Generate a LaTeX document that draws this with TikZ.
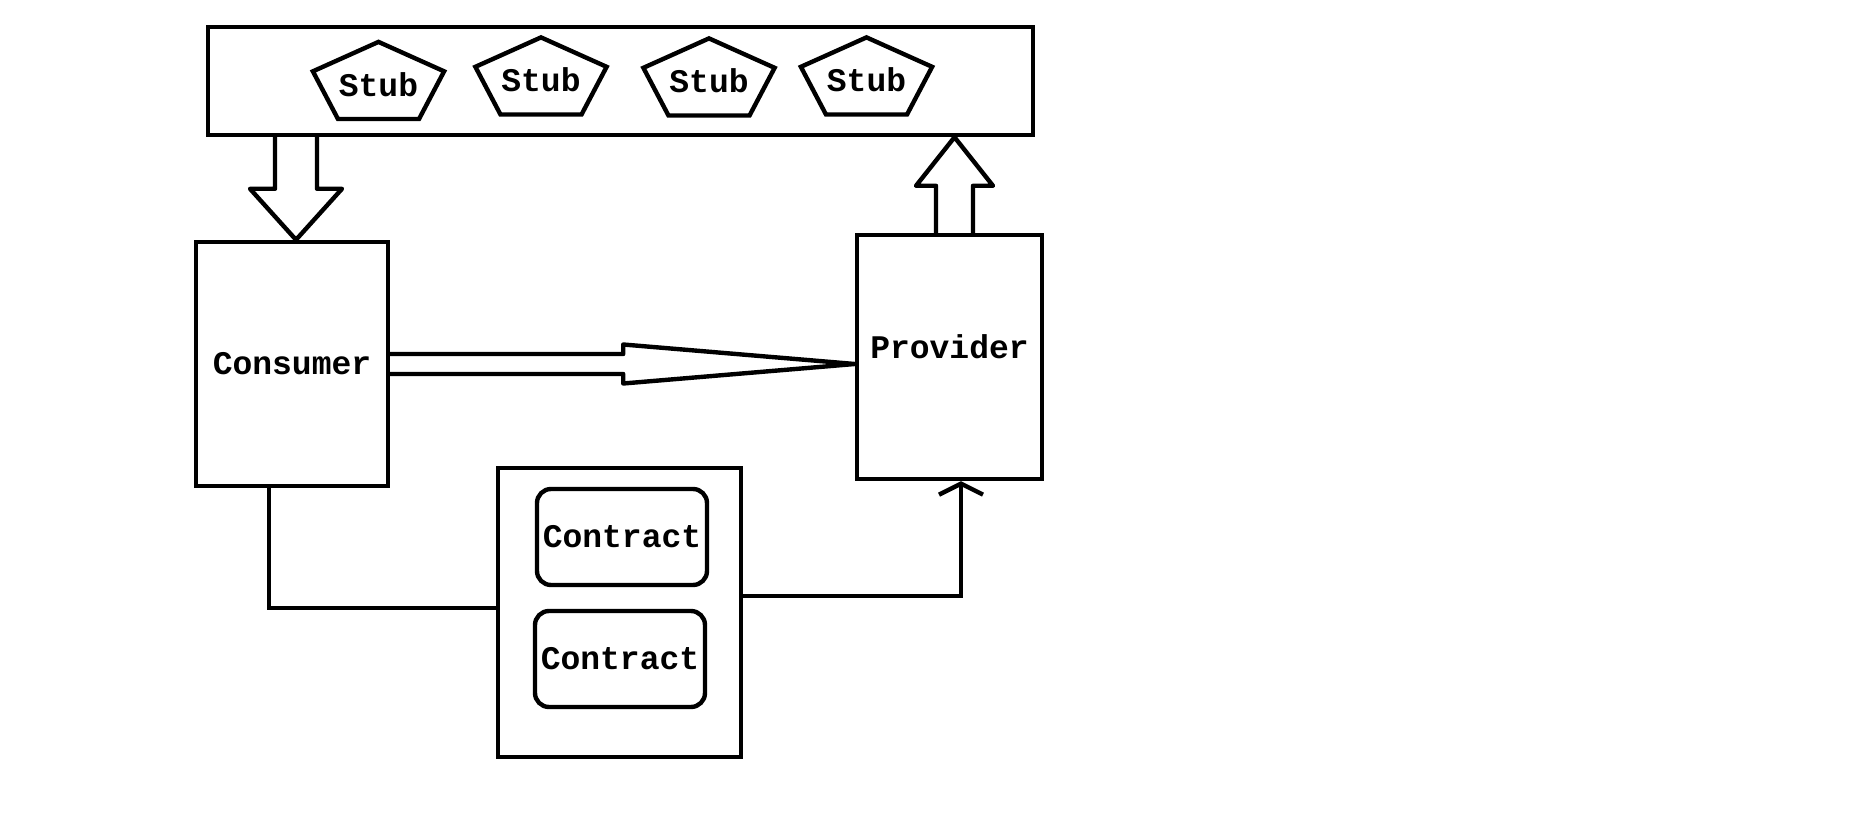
\documentclass[tikz,border=0pt]{standalone}
\usepackage{fontspec}
\setmonofont{Liberation Mono}
\usetikzlibrary{arrows.meta,positioning,calc}

\begin{document}
\begin{tikzpicture}[
  x=0.5pt, y=0.5pt,
  every node/.style={font=\ttfamily\bfseries\fontsize{16.5}{18}\selectfont},
  frame/.style={draw, line width=2.2pt, inner sep=0pt},
  party/.style={frame, minimum width=96pt, minimum height=122pt},
  contract/.style={frame, rounded corners=7pt, minimum width=85pt, minimum height=48pt},
  stubline/.style={line width=2.2pt},
  hollow/.style={line width=2.2pt, line join=round},
  link/.style={line width=2.2pt},
  barb/.style={-{Straight Barb[length=5.5pt,width=22pt]}}
]
\useasboundingbox (0,0) rectangle (1874,815);

% stub registry
\node[frame, minimum width=412.5pt, minimum height=54pt] (bar) at (620.5,734) {};
\node (s1) at (378.5,730.5) {Stub};
\node (s2) at (541,735) {Stub};
\node (s3) at (709,734) {Stub};
\node (s4) at (866.5,735) {Stub};
\foreach \s in {s1,s2,s3,s4}
  \draw[stubline, shift={(\s.center)}] (90:69 and 42.6) -- (162:69 and 42.6)
    -- (234:69 and 42.6) -- (306:69 and 42.6) -- (18:69 and 42.6) -- cycle;

% parties
\node[party] (cons) at (292,451) {Consumer};
\node[party, minimum width=92.5pt, text depth=10pt] (prov) at (949.5,458) {Provider};

% contracts
\node[frame, minimum width=121.5pt, minimum height=144.5pt] (holder) at (619.5,202.5) {};
\node[contract] (c1) at (622,278) {Contract};
\node[contract] (c2) at (620,156) {Contract};

% hollow arrows
\coordinate (dn) at ($(cons.north)+(4,0)$);
\coordinate (up) at ($(prov.north)+(5,0)$);
\draw[hollow] ($(bar.south -| dn)+(-21,0)$) -- ($(dn)+(-21,51)$)
  -- ($(dn)+(-46,51)$) -- (dn) -- ($(dn)+(46,51)$)
  -- ($(dn)+(21,51)$) -- ($(bar.south -| dn)+(21,0)$);
\draw[hollow] ($(up)+(-18.5,0)$) -- ($(up)+(-18.5,47)$)
  -- ($(up)+(-38.5,47)$) -- (bar.south -| up) -- ($(up)+(38.5,47)$)
  -- ($(up)+(18.5,47)$) -- ($(up)+(18.5,0)$);
\draw[hollow] ($(cons.east)+(0,10)$) -- ($(cons.east)+(233,10)$) -- ($(cons.east)+(233,19.5)$)
  -- (prov.west |- cons.east) -- ($(cons.east)+(233,-19.5)$) -- ($(cons.east)+(233,-10)$)
  -- ($(cons.east)+(0,-10)$);

% links
\draw[link] ($(cons.south)+(-23,0)$) |- ($(holder.west)+(0,4.5)$);
\draw[link, barb] ($(holder.east)+(0,16.5)$) -| ($(prov.south)+(11.5,0)$);
\end{tikzpicture}
\end{document}
